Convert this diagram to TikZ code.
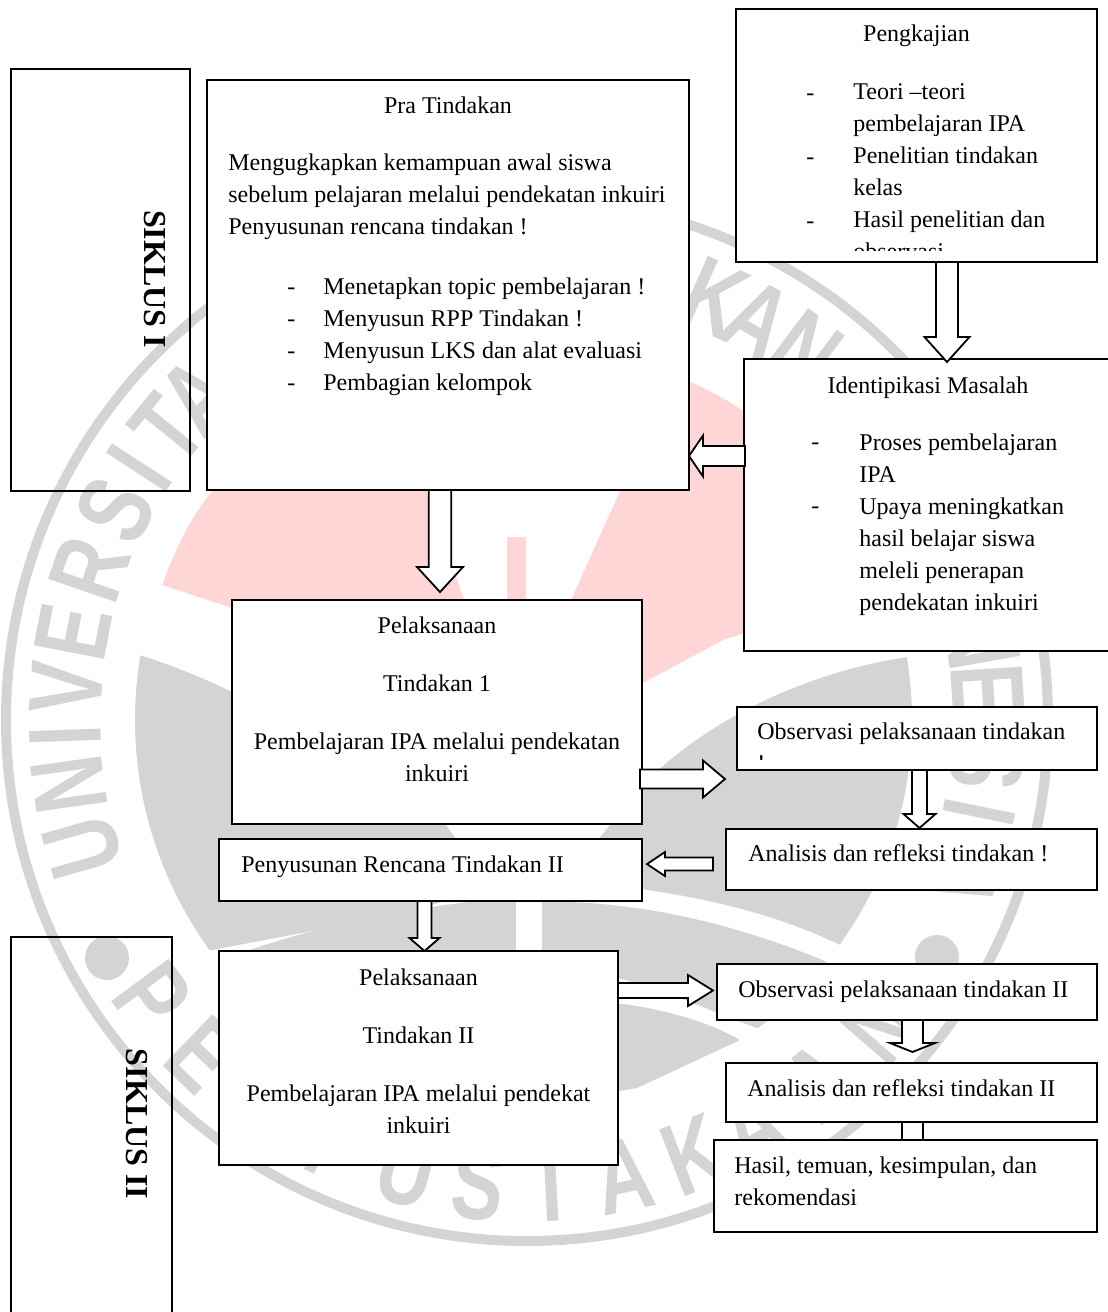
\documentclass[tikz,border=0pt]{standalone}
\usepackage{fontspec}
\setmainfont{Liberation Serif}
\newfontfamily\wmfont{Liberation Sans}
\usetikzlibrary{calc}
\definecolor{wmgray}{HTML}{D4D4D4}
\definecolor{wmpink}{HTML}{FFD6D6}
\newcommand{\wmletter}[1]{\scalebox{.75}[1]{\wmfont\bfseries\fontsize{52}{52}\selectfont #1}}
\tikzset{
    boxnode/.style={draw, fill=white, line width=1.1pt, inner sep=0pt, outer sep=0pt},
    sidebox/.style={draw, line width=1.1pt, inner sep=0pt, outer sep=0pt},
    txt/.style={anchor=north west, inner sep=0pt, align=left, font=\fontsize{12}{16}\selectfont, execute at begin node=\strut},
    ctxt/.style={anchor=north, inner sep=0pt, align=center, font=\fontsize{12}{16}\selectfont, execute at begin node=\strut},
    sidetxt/.style={rotate=-90, inner sep=0pt, font=\fontsize{16}{16}\selectfont\bfseries},
    wmtxt/.style={inner sep=0pt, text=wmgray},
    blockarrow/.style n args={3}{draw, fill=white, line width=0.9pt, to path={
        -- ($(\tikztostart)!#1!90:(\tikztotarget)$)
        -- ($($(\tikztotarget)!#3!(\tikztostart)$)!#1!90:(\tikztotarget)$)
        -- ($($(\tikztotarget)!#3!(\tikztostart)$)!#2!90:(\tikztotarget)$)
        -- (\tikztotarget)
        -- ($($(\tikztotarget)!#3!(\tikztostart)$)!#2!-90:(\tikztotarget)$)
        -- ($($(\tikztotarget)!#3!(\tikztostart)$)!#1!-90:(\tikztotarget)$)
        -- ($(\tikztostart)!#1!-90:(\tikztotarget)$)
        -- cycle}}
}

\begin{document}
\begin{tikzpicture}[x=0.5pt, y=-0.5pt]
    \useasboundingbox (0,0) rectangle (1108,1312);

    \begin{scope}[shift={(527,720)}, x=0.5pt, y=0.5pt]
        \fill[wmpink] (-365,135) .. controls (-350,175) and (-335,205) .. (-314,230) -- (-200,350) -- (-107,250) -- (-63,120) -- (-63,70) -- (-295,112) -- cycle;
        \fill[wmpink] (-20,183) rectangle (-1,80);
        \fill[wmpink] (25,40) -- (44,120) -- (98,240) -- (133,320) -- (163,338) .. controls (182,330) and (200,320) .. (215,310) -- (323,250) -- (323,120) -- (196,80) -- (116,37) -- cycle;

        \fill[wmgray] (170.5:392) arc[start angle=170.5, end angle=216, radius=392] .. controls (-130,-195) and (-100,-190) .. (-37,-165) -- (-81,-105) .. controls (-160,-40) and (-290,35) .. cycle;
        \fill[wmgray] (-277,-230) .. controls (-190,-200) and (-100,-185) .. (-11,-177) -- (-11,-380) -- (-200,-330) -- cycle;
        \fill[wmgray] (9.4:385) arc[start angle=9.4, end angle=-35.7, radius=385] .. controls (260,-200) and (200,-180) .. (93,-166) -- (38,-160) -- (83,-105) .. controls (140,-20) and (260,45) .. cycle;
        \fill[wmgray] (15,-182) .. controls (100,-180) and (200,-200) .. (-38.9:385) arc[start angle=-38.9, end angle=-53.2, radius=385] .. controls (180,-290) and (140,-270) .. (91,-258) -- (15,-280) -- cycle;
        \fill[wmgray] (40,-280) .. controls (100,-280) and (170,-295) .. (213,-320) -- (110,-368) -- (40,-380) -- cycle;

        \draw[wmgray, line width=5pt] (0,0) circle (521);
        \fill[wmgray] (-420,-238) circle (22);
        \fill[wmgray] (410,-237) circle (22);

        \foreach \letter/\ang [count=\n] in {U/196,N/188,I/182,V/176,E/169,R/161,S/153,I/147,T/141,A/135.5,S/126,P/113,E/106,N/99,D/92,I/86,D/80,I/75,K/66,A/60,N/53,I/40,N/33,D/26,O/19,N/10,E/3.7,S/-5.5,I/-11.5,A/-20}
            \node[wmtxt, rotate=\ang-90] (univ\n) at (\ang:462) {\wmletter{\letter}};
        \foreach \letter/\ang [count=\n] in {P/216.5,E/226,R/236,P/246,U/255,S/264,T/273,A/282,K/291,A/299,A/309,N/319}
            \node[wmtxt, rotate=\ang+90] (perp\n) at (\ang:466) {\wmletter{\letter}};
    \end{scope}

    \node[sidebox, minimum width=89.5pt, minimum height=211pt] (siklusa) at (100.5,280) {};
    \node[sidebox, minimum width=80.5pt, minimum height=189.5pt] (siklusb) at (91.5,1126.5) {};
    \node[sidetxt] (siklusatxt) at (155,279) {SIKLUS I};
    \node[sidetxt] (siklusbtxt) at (137,1124) {SIKLUS II};

    \node[boxnode, minimum width=241pt, minimum height=205pt] (pra) at (448,285) {};
    \node[boxnode, minimum width=180.5pt, minimum height=126.5pt] (kaji) at (916.5,135.5) {};
    \node[boxnode, minimum width=184pt, minimum height=146pt] (masalah) at (928,505) {};
    \node[boxnode, minimum width=205pt, minimum height=112pt] (pela) at (437,712) {};
    \node[boxnode, minimum width=180pt, minimum height=31.5pt] (obsa) at (917,738.5) {};
    \node[boxnode, minimum width=185.5pt, minimum height=30.5pt] (anala) at (911.5,859.5) {};
    \node[boxnode, minimum width=211.5pt, minimum height=31pt] (renc) at (430.5,870) {};
    \node[boxnode, minimum width=199.5pt, minimum height=107pt] (pelb) at (418.5,1058) {};
    \node[boxnode, minimum width=190pt, minimum height=28pt] (obsb) at (907,992) {};
    \node[boxnode, minimum width=185.5pt, minimum height=29.5pt] (analb) at (911.5,1092.5) {};

    \coordinate (hasiltip) at (912.5,1175);
    \draw[blockarrow={5.25pt}{5.25pt}{5pt}] ([xshift=0.5pt]analb.south) to (hasiltip);

    \node[boxnode, minimum width=191.5pt, minimum height=46pt] (hasil) at (905.5,1186) {};

    \draw[blockarrow={5.5pt}{11.25pt}{12.5pt}] ([xshift=15.25pt]kaji.south) to ([xshift=9.5pt, yshift=-1.5pt]masalah.north);
    \draw[blockarrow={5pt}{10.25pt}{7pt}] ([xshift=0.5pt, yshift=24.5pt]masalah.west) to ([yshift=-85.5pt]pra.east);
    \draw[blockarrow={5.6pt}{11.5pt}{12.5pt}] ([xshift=-4pt]pra.south) to ([xshift=1.5pt, yshift=4pt]pela.north);
    \draw[blockarrow={4.75pt}{9.25pt}{11pt}] ([xshift=-1pt, yshift=-33.5pt]pela.east) to ([xshift=-6pt, yshift=-20.25pt]obsa.west);
    \draw[blockarrow={3.75pt}{8pt}{7pt}] ([xshift=1.25pt]obsa.south) to ([xshift=4pt, yshift=0.5pt]anala.north);
    \draw[blockarrow={3.25pt}{6pt}{9pt}] ([xshift=-6.5pt, yshift=-2.25pt]anala.west) to ([xshift=2.5pt, yshift=3pt]renc.east);
    \draw[blockarrow={3.5pt}{7.5pt}{6.5pt}] ([xshift=-3pt]renc.south) to ([xshift=3pt]pelb.north);
    \draw[blockarrow={3.75pt}{7.75pt}{12.5pt}] ([yshift=33.75pt]pelb.east) to ([xshift=-2pt, yshift=0.75pt]obsb.west);
    \draw[blockarrow={5.25pt}{11.25pt}{4.5pt}] ([xshift=2.75pt]obsb.south) to ([xshift=0.5pt, yshift=5.5pt]analb.north);

    \node[ctxt] (pratitle) at (448,91) {Pra Tindakan};
    \node[txt] (pratxt) at (228,153) {Mengugkapkan kemampuan awal siswa\\sebelum pelajaran melalui pendekatan inkuiri\\Penyusunan rencana tindakan !};
    \node[txt] (pradash) at (287,288) {-\\-\\-\\-};
    \node[txt] (prabul) at (323,277) {Menetapkan topic pembelajaran !\\Menyusun RPP Tindakan !\\Menyusun LKS dan alat evaluasi\\Pembagian kelompok};

    \node[ctxt] (kajititle) at (916.5,19) {Pengkajian};
    \node[txt] (kajidash) at (806,94) {-\\[16pt]-\\[16pt]-};
    \begin{scope}
        \clip (740,10) rectangle (1090,250);
        \node[txt] (kajibul) at (853,83) {Teori --teori\\pembelajaran IPA\\Penelitian tindakan\\kelas\\Hasil penelitian dan\\observasi};
    \end{scope}

    \node[ctxt] (masalahtitle) at (928,371) {Identipikasi Masalah};
    \node[txt] (masalahdash) at (811,443) {-\\[16pt]-};
    \node[txt] (masalahbul) at (859,433) {Proses pembelajaran\\IPA\\Upaya meningkatkan\\hasil belajar siswa\\meleli penerapan\\pendekatan inkuiri};

    \node[ctxt] (pelatitle) at (437,611) {Pelaksanaan};
    \node[ctxt] (pelanum) at (437,669) {Tindakan 1};
    \node[ctxt] (pelatxt) at (437,732) {Pembelajaran IPA melalui pendekatan\\inkuiri};

    \begin{scope}
        \clip (740,710) rectangle (1090,759);
        \node[txt] (obsatxt) at (757,722) {Observasi pelaksanaan tindakan\\!};
    \end{scope}
    \node[txt] (analatxt) at (748,839) {Analisis dan refleksi tindakan !};
    \node[txt] (renctxt) at (241,850) {Penyusunan Rencana Tindakan II};

    \node[ctxt] (pelbtitle) at (418.5,963) {Pelaksanaan};
    \node[ctxt] (pelbnum) at (418.5,1021) {Tindakan II};
    \node[ctxt] (pelbtxt) at (418.5,1084) {Pembelajaran IPA melalui pendekat\\inkuiri};

    \node[txt] (obsbtxt) at (738,975) {Observasi pelaksanaan tindakan II};
    \node[txt] (analbtxt) at (747,1074) {Analisis dan refleksi tindakan II};
    \node[txt] (hasiltxt) at (734,1156) {Hasil, temuan, kesimpulan, dan\\rekomendasi};
\end{tikzpicture}
\end{document}
